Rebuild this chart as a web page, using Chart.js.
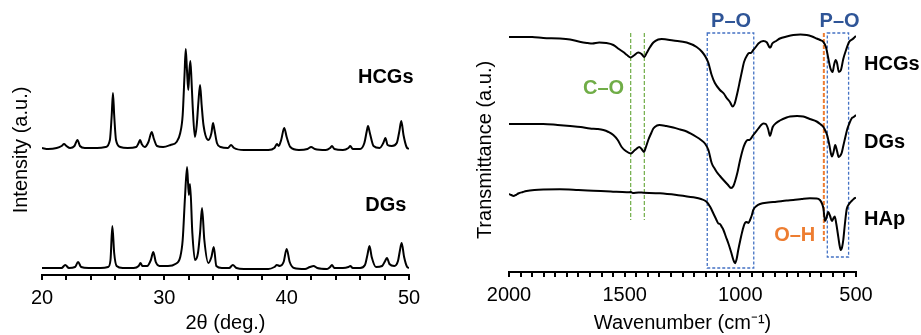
<!DOCTYPE html>
<html lang="en">
  <head>
    <meta charset="UTF-8" />
    <script src="https://cdn.jsdelivr.net/npm/chart.js@4.4.1/dist/chart.umd.min.js"></script>
    <title>XRD and FTIR</title>
    <style>
      body {
        margin: 0;
        padding: 0;
        background: #fff;
      }
      .wrap {
        display: flex;
        width: 921px;
        height: 335px;
      }
      .panel {
        position: relative;
        height: 335px;
      }
    </style>
  </head>
  <body>
    <div class="wrap">
      <div class="panel" style="width: 460px"><canvas id="xrd"></canvas></div>
      <div class="panel" style="width: 461px"><canvas id="ftir"></canvas></div>
    </div>
    <script>
      // XRD patterns: [2theta, intensity (a.u., offset)]
      const xrdHCGs = [
        [20, 127], [20.5, 126], [21.2, 127], [21.6, 129], [21.8, 131], [22.0, 129], [22.3, 127],
        [22.65, 129], [22.9, 135], [23.1, 129], [23.5, 127], [24.5, 127], [25.2, 128], [25.55, 135],
        [25.7, 160], [25.8, 182], [25.9, 160], [26.05, 135], [26.4, 128], [27.0, 127], [27.7, 128],
        [27.9, 132], [28.02, 135], [28.15, 131], [28.4, 128], [28.7, 133], [28.97, 143], [29.15, 136],
        [29.4, 129], [29.9, 128], [30.5, 130], [31.0, 133], [31.3, 142], [31.5, 160], [31.65, 200],
        [31.75, 226], [31.85, 205], [31.96, 185], [32.05, 205], [32.13, 214], [32.22, 195], [32.32, 168],
        [32.5, 138], [32.65, 150], [32.78, 172], [32.92, 190], [33.05, 170], [33.2, 150], [33.6, 135],
        [33.85, 142], [33.98, 152], [34.1, 145], [34.3, 132], [34.6, 128], [35.2, 127], [35.45, 130],
        [35.7, 127], [36.5, 125], [37.5, 125], [38.5, 125], [39.0, 127], [39.2, 131], [39.35, 129],
        [39.55, 135], [39.8, 147], [40.0, 138], [40.3, 128], [41.0, 125], [41.7, 126], [42.0, 128],
        [42.3, 126], [43.2, 125], [43.55, 127], [43.7, 129], [43.9, 126], [44.6, 125], [45.05, 127],
        [45.2, 129], [45.4, 126], [46.0, 126], [46.35, 132], [46.55, 144], [46.65, 149], [46.8, 142],
        [47.1, 129], [47.6, 127], [47.9, 132], [48.07, 137], [48.25, 130], [48.6, 129], [49.0, 132],
        [49.2, 143], [49.37, 154], [49.55, 140], [49.8, 128], [50, 126]
      ]
      const xrdDGs = [
        [20, 7], [21.0, 7], [21.6, 7], [21.9, 10], [22.2, 7], [22.7, 8], [22.95, 13], [23.2, 8],
        [23.8, 7], [24.8, 7], [25.4, 8], [25.6, 15], [25.75, 49], [25.9, 22], [26.1, 9], [26.6, 7],
        [27.5, 7], [27.9, 9], [28.05, 12], [28.2, 9], [28.6, 9], [28.9, 15], [29.1, 23], [29.3, 13],
        [29.6, 9], [30.3, 9], [30.9, 11], [31.3, 18], [31.5, 35], [31.69, 78], [31.86, 108], [32.0, 80],
        [32.1, 91], [32.29, 42], [32.5, 15], [32.75, 22], [32.92, 42], [33.08, 67], [33.27, 35],
        [33.6, 12], [33.85, 18], [34.04, 28], [34.25, 9], [34.7, 7], [35.3, 7], [35.6, 10], [35.9, 7],
        [36.5, 6], [37.5, 6], [38.5, 6], [39.0, 8], [39.2, 10], [39.45, 9], [39.75, 13], [40.0, 26],
        [40.25, 13], [40.6, 7], [41.5, 6], [41.9, 8], [42.2, 9], [42.5, 7], [43.3, 6], [43.55, 8],
        [43.7, 10], [43.9, 7], [44.6, 7], [45.05, 8], [45.2, 9], [45.4, 7], [46.0, 7], [46.4, 10],
        [46.6, 20], [46.77, 29], [46.95, 18], [47.3, 8], [47.8, 9], [48.05, 14], [48.2, 17], [48.4, 11],
        [48.8, 9], [49.1, 14], [49.25, 24], [49.4, 32], [49.6, 18], [49.85, 8], [50, 7]
      ]

      // FTIR spectra: [wavenumber, transmittance (a.u., offset)]
      const ftirHCGs = [
        [2000, 235], [1900, 235], [1852, 234], [1780, 233.5], [1736, 232.5], [1690, 230], [1660, 229],
        [1640, 228.5], [1610, 229.5], [1580, 229], [1549, 227], [1525, 223], [1506, 220], [1490, 217],
        [1474, 214.5], [1460, 216.5], [1441, 219.5], [1427, 218], [1415, 215], [1405, 219], [1390, 225],
        [1376, 229.5], [1355, 232.5], [1340, 233], [1290, 231.5], [1232, 229.5], [1189, 225], [1165, 220],
        [1150, 215], [1138, 209], [1124, 197], [1110, 189], [1088, 182], [1070, 178], [1059, 174],
        [1045, 170], [1033, 165.5], [1025, 168], [1019, 173], [1010, 182], [1001, 192], [990, 204],
        [984, 210], [970, 217], [962, 219], [955, 219], [944, 222], [930, 226], [922, 228.5], [901, 231],
        [885, 229.5], [875, 225], [870, 224.5], [862, 228.5], [845, 231], [829, 233.5], [800, 235.5],
        [771, 237], [740, 237.5], [713, 237], [690, 235.5], [670, 233.5], [655, 232], [641, 230],
        [630, 225], [620, 214], [611, 204], [601, 200], [595, 207], [588, 212], [582, 209], [574, 200],
        [565, 202], [555, 213], [543, 222], [530, 230], [514, 233], [505, 235], [500, 236]
      ]
      const ftirDGs = [
        [2000, 148], [1900, 148], [1852, 148], [1790, 147], [1736, 146], [1690, 145], [1650, 143.5],
        [1620, 143], [1592, 142], [1570, 140], [1549, 137], [1530, 132], [1513, 125], [1495, 121],
        [1474, 118.5], [1460, 121], [1450, 123], [1437, 125], [1427, 123], [1417, 120], [1408, 125],
        [1398, 132], [1385, 139], [1376, 143.5], [1360, 146.5], [1350, 147], [1320, 146], [1290, 144.5],
        [1260, 142.5], [1232, 140.5], [1189, 135], [1170, 132], [1153, 128.5], [1138, 122], [1124, 109],
        [1110, 103], [1102, 100], [1088, 96], [1073, 92], [1055, 87.5], [1040, 84], [1030, 86],
        [1023, 90.5], [1012, 100], [1001, 112], [990, 122], [980, 128.5], [968, 132], [961, 132],
        [944, 137], [922, 143.5], [910, 147], [901, 148.5], [890, 148], [880, 143], [872, 136], [866, 140],
        [860, 145], [845, 149], [829, 151.5], [800, 154.5], [785, 155.5], [755, 156], [728, 155.5],
        [700, 153], [670, 150.5], [655, 148], [641, 145], [632, 141], [625, 137], [616, 128], [608, 118],
        [604, 115.5], [597, 120], [590, 127], [582, 121], [575, 115], [569, 116], [562, 119], [555, 126],
        [545, 136], [537, 143.5], [528, 149], [519, 153.5], [510, 155], [500, 157]
      ]
      const ftirHAp = [
        [2000, 78], [1990, 77], [1981, 76], [1970, 77], [1960, 78.5], [1940, 80], [1924, 81], [1890, 82],
        [1852, 82.5], [1780, 82.7], [1700, 82], [1636, 81.3], [1560, 80.5], [1491, 79.7], [1473, 80],
        [1465, 79], [1440, 79.5], [1419, 79.3], [1347, 78.7], [1275, 77], [1203, 74.7], [1170, 73],
        [1146, 70.3], [1130, 65], [1117, 58.7], [1105, 53], [1095, 48.5], [1088, 48], [1080, 45],
        [1073, 42], [1062, 35], [1052, 28.7], [1040, 20], [1030, 12], [1023, 8.7], [1016, 13], [1009, 22],
        [1000, 32], [990, 42], [980, 49], [972, 50], [965, 49], [958, 52], [950, 57], [944, 62], [930, 66],
        [915, 68], [880, 69.5], [844, 70.3], [800, 71.5], [771, 72], [735, 73], [699, 73.7], [670, 73.5],
        [656, 72], [648, 69], [641, 63.7], [634, 51], [628, 54], [620, 60], [612, 56], [604, 51],
        [597, 54], [592, 55.5], [585, 48], [579, 39], [572, 28], [566, 22], [560, 25], [555, 32],
        [548, 48], [540, 63], [530, 68], [519, 71], [510, 73], [500, 74.5]
      ]

      const xrdNames = ['HCGs', 'DGs']
      const ftirNames = ['HCGs', 'DGs', 'HAp']

      const FONT = 'Arial, "Liberation Sans", sans-serif'
      Chart.defaults.font.family = FONT
      Chart.defaults.color = '#000'

      // draws band boxes, marker lines and text labels in data units
      const notes = {
        id: 'notes',
        beforeDatasetsDraw(chart, args, opts) {
          const { ctx, scales: { x, y } } = chart
          ctx.save()
          ;(opts.boxes || []).forEach((b) => {
            ctx.setLineDash([3, 2])
            ctx.strokeStyle = b.color
            ctx.lineWidth = 1.3
            const x0 = x.getPixelForValue(b.x[0])
            const x1 = x.getPixelForValue(b.x[1])
            const y0 = y.getPixelForValue(b.y[0])
            const y1 = y.getPixelForValue(b.y[1])
            ctx.strokeRect(x0, y0, x1 - x0, y1 - y0)
          })
          ;(opts.lines || []).forEach((l) => {
            ctx.setLineDash([4, 2])
            ctx.strokeStyle = l.color
            ctx.lineWidth = l.width
            const px = x.getPixelForValue(l.x)
            ctx.beginPath()
            ctx.moveTo(px, y.getPixelForValue(l.y[0]))
            ctx.lineTo(px, y.getPixelForValue(l.y[1]))
            ctx.stroke()
          })
          ctx.restore()
        },
        afterDraw(chart, args, opts) {
          const { ctx, scales: { x, y } } = chart
          ctx.save()
          ctx.font = 'bold 20px ' + FONT
          ctx.textBaseline = 'middle'
          ;(opts.texts || []).forEach((t) => {
            ctx.fillStyle = t.color || '#000'
            ctx.textAlign = t.align || 'center'
            ctx.fillText(t.text, x.getPixelForValue(t.x), y.getPixelForValue(t.y))
          })
          ctx.restore()
        },
      }

      const lineSet = (label, data) => ({
        label,
        data,
        borderColor: '#000',
        borderWidth: 2,
        pointRadius: 0,
        cubicInterpolationMode: 'monotone',
      })

      const xAxis = (opts) => ({
        type: 'linear',
        border: { display: true, color: '#000', width: 2 },
        grid: { display: true, drawOnChartArea: false, drawTicks: true, tickLength: 5, color: '#000', lineWidth: 2 },
        ticks: {
          autoSkip: false,
          maxRotation: 0,
          padding: 6,
          color: '#000',
          font: { size: 20 },
          callback: (v) => (v % opts.major === 0 ? v : ''),
          stepSize: opts.step,
        },
        title: { display: true, text: opts.title, color: '#000', font: { size: 20 }, padding: 0 },
        afterFit: (s) => { s.height = opts.height },
        min: opts.min,
        max: opts.max,
        reverse: !!opts.reverse,
      })

      const yAxis = (opts) => ({
        min: 0,
        max: opts.max,
        border: { display: false },
        grid: { display: false },
        ticks: { display: false },
        title: { display: true, text: opts.title, color: '#000', font: { size: 20 }, padding: { top: opts.pad, bottom: 0 } },
        afterFit: (s) => { s.width = opts.width },
      })

      new Chart(document.getElementById('xrd'), {
        type: 'line',
        data: { datasets: [lineSet(xrdNames[0], xrdHCGs), lineSet(xrdNames[1], xrdDGs)] },
        options: {
          responsive: true,
          maintainAspectRatio: false,
          animation: false,
          layout: { padding: { top: 25, right: 51, left: 0, bottom: 0 } },
          plugins: {
            legend: { display: false },
            tooltip: { enabled: false },
            notes: {
              texts: [
                { text: xrdNames[0], x: 48.1, y: 198 },
                { text: xrdNames[1], x: 48.1, y: 70 },
              ],
            },
          },
          scales: {
            x: xAxis({ min: 20, max: 50, step: 2, major: 10, title: '2θ (deg.)', height: 60 }),
            y: yAxis({ max: 250, title: 'Intensity (a.u.)', pad: 9, width: 42 }),
          },
        },
        plugins: [notes],
      })

      new Chart(document.getElementById('ftir'), {
        type: 'line',
        data: {
          datasets: [
            lineSet(ftirNames[0], ftirHCGs),
            lineSet(ftirNames[1], ftirDGs),
            lineSet(ftirNames[2], ftirHAp),
          ],
        },
        options: {
          responsive: true,
          maintainAspectRatio: false,
          animation: false,
          layout: { padding: { top: 28, right: 65, left: 0, bottom: 0 } },
          plugins: {
            legend: { display: false },
            tooltip: { enabled: false },
            notes: {
              boxes: [
                { x: [1143, 942], y: [239, 4], color: '#4472C4' },
                { x: [624, 532], y: [239, 15], color: '#4472C4' },
              ],
              lines: [
                { x: 1474, y: [239, 52], color: '#70AD47', width: 1.2 },
                { x: 1415, y: [239, 52], color: '#70AD47', width: 1.2 },
                { x: 639, y: [239, 29], color: '#ED7D31', width: 2 },
              ],
              texts: [
                { text: ftirNames[0], x: 465, y: 208, align: 'left' },
                { text: ftirNames[1], x: 465, y: 130, align: 'left' },
                { text: ftirNames[2], x: 465, y: 53, align: 'left' },
                { text: 'P–O', x: 1040, y: 251, color: '#2F5597' },
                { text: 'P–O', x: 571, y: 251, color: '#2F5597' },
                { text: 'C–O', x: 1591, y: 184, color: '#70AD47' },
                { text: 'O–H', x: 765, y: 37, color: '#ED7D31' },
              ],
            },
          },
          scales: {
            x: xAxis({ min: 500, max: 2000, step: 50, major: 500, title: 'Wavenumber (cm⁻¹)', height: 63, reverse: true }),
            y: yAxis({ max: 244, title: 'Transmittance (a.u.)', pad: 13, width: 49 }),
          },
        },
        plugins: [notes],
      })
    </script>
  </body>
</html>
